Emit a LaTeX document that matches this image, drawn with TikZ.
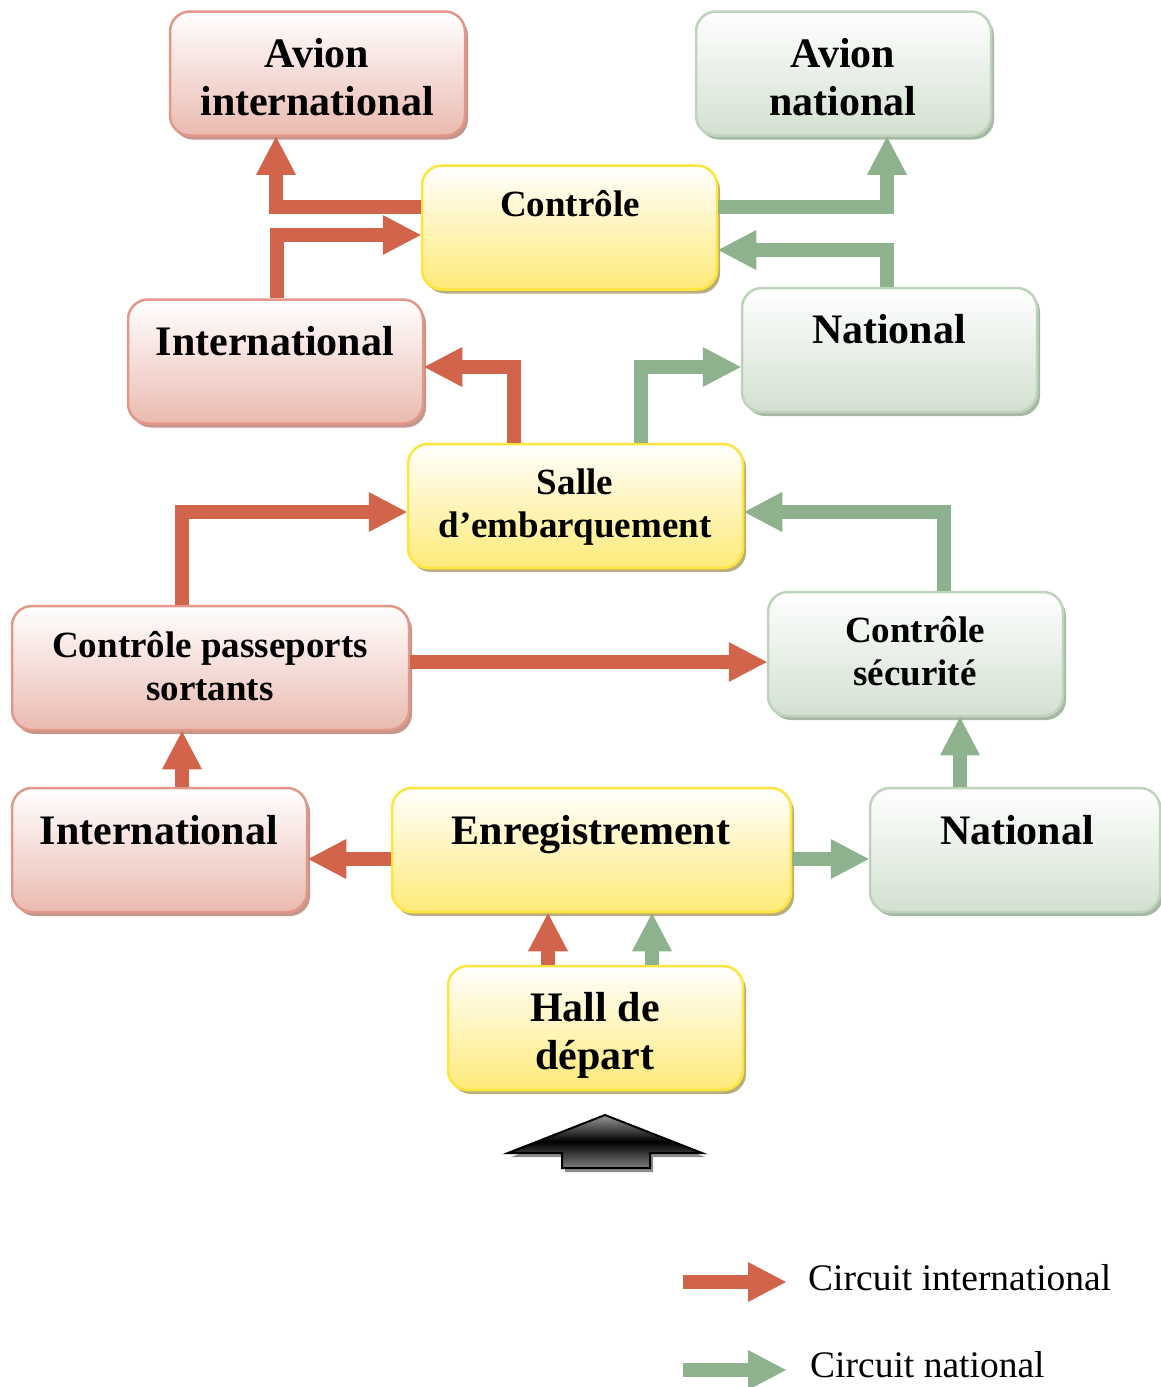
\documentclass[tikz,border=0pt]{standalone}
\usepackage{fontspec}
\setmainfont{Liberation Serif}
\usetikzlibrary{arrows.meta,shadows,calc}
\definecolor{ra}{RGB}{210,100,75}
\definecolor{ga}{RGB}{143,178,142}
\definecolor{rbd}{RGB}{226,152,136}
\definecolor{rbf}{RGB}{234,186,176}
\definecolor{rsh}{RGB}{196,150,140}
\definecolor{gbd}{RGB}{190,210,188}
\definecolor{gbf}{RGB}{210,224,208}
\definecolor{gsh}{RGB}{165,185,165}
\definecolor{ybd}{RGB}{255,228,60}
\definecolor{ybf}{RGB}{254,234,120}
\definecolor{ysh}{RGB}{185,175,125}
\tikzset{
  box/.style={rectangle, rounded corners=20pt, line width=2.5pt, minimum width=295pt, minimum height=124pt, inner sep=0pt},
  rbox/.style={box, draw=rbd, top color=white, bottom color=rbf, drop shadow={shadow xshift=3pt, shadow yshift=-4pt, fill=rsh, opacity=1}},
  gbox/.style={box, draw=gbd, top color=white, bottom color=gbf, drop shadow={shadow xshift=3pt, shadow yshift=-4pt, fill=gsh, opacity=1}},
  ybox/.style={box, draw=ybd, top color=white, bottom color=ybf, drop shadow={shadow xshift=3pt, shadow yshift=-4pt, fill=ysh, opacity=1}},
  bigtxt/.style={font=\fontsize{42}{48}\selectfont\bfseries, inner sep=0pt, align=center},
  midtxt/.style={font=\fontsize{37}{43}\selectfont\bfseries, inner sep=0pt, align=center},
  legtxt/.style={font=\fontsize{37.5}{44}\selectfont, inner sep=0pt, anchor=base west},
  rarr/.style={draw=ra, line width=14pt, line join=miter, -{Triangle[length=38pt,width=40pt,line width=0pt]}},
  garr/.style={draw=ga, line width=14pt, line join=miter, -{Triangle[length=38pt,width=40pt,line width=0pt]}},
}
\begin{document}
\begin{tikzpicture}[x=1pt,y=-1pt]
\useasboundingbox (0,0) rectangle (1160,1387);
% boxes
\node[rbox] (ai) at (317.5,73.5) {};
\node[gbox] (an) at (843.5,73.5) {};
\node[ybox] (ctl) at (569.5,227.5) {};
\node[rbox] (intu) at (275.5,361.5) {};
\node[gbox] (natu) at (889.5,350) {};
\node[ybox, minimum width=335pt] (salle) at (575.5,506) {};
\node[rbox, minimum width=397pt] (cps) at (210.5,668) {};
\node[gbox] (csec) at (915.5,654) {};
\node[rbox] (intl) at (159.5,850) {};
\node[ybox, minimum width=399pt] (enr) at (591.5,850) {};
\node[gbox, minimum width=290pt] (natl) at (1015,850) {};
\node[ybox] (hall) at (595.5,1028) {};
% texts
\node[bigtxt, anchor=north] (ai-t) at (317,38) {Avion\\international};
\node[bigtxt, anchor=north] (an-t) at (843,38) {Avion\\national};
\node[midtxt, anchor=base] (ctl-t) at (570,216) {Contrôle};
\node[bigtxt, anchor=base] (intu-t) at (275,355) {International};
\node[bigtxt, anchor=base] (natu-t) at (889,343) {National};
\node[midtxt, anchor=north] (salle-t) at (575,469) {Salle\\d’embarquement};
\node[midtxt, anchor=north] (cps-t) at (210,631) {Contrôle passeports\\sortants};
\node[midtxt, anchor=north] (csec-t) at (915,616) {Contrôle\\sécurité};
\node[bigtxt, anchor=base] (intl-t) at (159,844) {International};
\node[bigtxt, anchor=base] (enr-t) at (591,844) {Enregistrement};
\node[bigtxt, anchor=base] (natl-t) at (1017,844) {National};
\node[bigtxt, anchor=north] (hall-t) at (595,992.5) {Hall de\\départ};
% red arrows
\draw[rarr] ([yshift=-9pt]enr.west) -- ([yshift=-9pt]intl.east);
\draw[rarr] ([xshift=22.5pt]intl.north) -- ([xshift=22.5pt]intl.north |- cps.south);
\draw[rarr] ([yshift=6pt]cps.east) -- ([yshift=6pt]cps.east -| csec.west);
\draw[rarr] ([xshift=-28.5pt]cps.north) |- ([yshift=-6pt]salle.west);
\draw[rarr] ([xshift=-61.5pt]salle.north) |- ([yshift=-5.5pt]intu.east);
\draw[rarr] ([xshift=1.5pt]intu.north) |- ([yshift=-7.5pt]ctl.west);
\draw[rarr] ([yshift=20.5pt]ctl.west) -| ([xshift=-41.5pt]ai.south);
\draw[rarr] ([xshift=-47.5pt]hall.north) -- ([xshift=-47.5pt]hall.north |- enr.south);
% green arrows
\draw[garr] ([yshift=-9pt]enr.east) -- ([yshift=-9pt]enr.east -| natl.west);
\draw[garr] ([xshift=-55pt]natl.north) -- ([xshift=-55pt]natl.north |- csec.south);
\draw[garr] ([xshift=28.5pt]csec.north) |- ([yshift=-6pt]salle.east);
\draw[garr] ([xshift=65.5pt]salle.north) |- ([yshift=-17pt]natu.west);
\draw[garr] ([xshift=-2.5pt]natu.north) |- ([yshift=-22.5pt]ctl.east);
\draw[garr] ([yshift=20.5pt]ctl.east) -| ([xshift=43.5pt]an.south);
\draw[garr] ([xshift=56.5pt]hall.north) -- ([xshift=56.5pt]hall.north |- enr.south);
% big black arrow
\fill[black!45, shift={(3,4)}] (605,1115) -- (702,1153) -- (650,1153) -- (650,1168) -- (562,1168) -- (562,1153) -- (508,1153) -- cycle;
\shadedraw[draw=black, line width=2pt, line join=miter, top color=black!40, bottom color=black!50, middle color=black] (605,1115) -- (702,1153) -- (650,1153) -- (650,1168) -- (562,1168) -- (562,1153) -- (508,1153) -- cycle;
% legend
\coordinate (lr1) at (683,1282);
\coordinate (lr2) at (786,1282);
\coordinate (lg1) at (683,1370);
\coordinate (lg2) at (786,1370);
\draw[rarr] (lr1) -- (lr2);
\draw[garr] (lg1) -- (lg2);
\node[legtxt] (leg-r) at (808,1290) {Circuit international};
\node[legtxt] (leg-g) at (810,1377) {Circuit national};
\end{tikzpicture}
\end{document}
